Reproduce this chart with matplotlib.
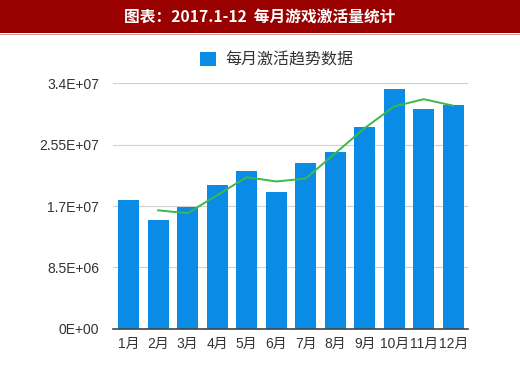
import matplotlib.pyplot as plt
from matplotlib.patches import Rectangle

plt.rcParams['font.family'] = ['Noto Sans CJK SC', 'DejaVu Sans']

# data
months = ['1月', '2月', '3月', '4月', '5月', '6月', '7月', '8月', '9月', '10月', '11月', '12月']
activations = [17.9e6, 15.1e6, 16.9e6, 19.9e6, 21.9e6, 18.9e6, 22.9e6, 24.5e6, 27.9e6, 33.2e6, 30.5e6, 31.0e6]
trend = [None, 16.4e6, 16.0e6, 18.5e6, 21.0e6, 20.4e6, 20.8e6, 24.3e6, 27.8e6, 30.8e6, 31.8e6, 30.9e6]
yticks = [0, 8.5e6, 1.7e7, 2.55e7, 3.4e7]
ytick_labels = ['0E+00', '8.5E+06', '1.7E+07', '2.55E+07', '3.4E+07']

fig = plt.figure(figsize=(5.2, 3.68), dpi=100)
fig.patch.set_facecolor('white')

# red title band
fig.patches.append(Rectangle((0, 1 - 33 / 368), 1, 33 / 368, transform=fig.transFigure,
                             facecolor='#990000', edgecolor='none', zorder=0))
fig.patches.append(Rectangle((0, 1 - 35 / 368), 1, 1.5 / 368, transform=fig.transFigure,
                             facecolor='#d9a0a0', edgecolor='none', zorder=0))
fig.text(0.5, 1 - 16.5 / 368, '图表：2017.1-12  每月游戏激活量统计', color='white',
         fontsize=11.3, fontweight='bold', ha='center', va='center')

ax = fig.add_axes([113 / 520, 1 - 328.7 / 368, (468 - 113) / 520, (328.7 - 83.3) / 368])
x = list(range(len(months)))
bars = ax.bar(x, activations, width=0.71, color='#0a8ce6', zorder=2, label='每月激活趋势数据')
tx = [i for i, v in zip(x, trend) if v is not None]
ty = [v for v in trend if v is not None]
ax.plot(tx, ty, color='#3cb84a', linewidth=1.4, zorder=3)

ax.set_xlim(-0.53, 11.5)
ax.set_ylim(0, 3.4e7)
ax.set_yticks(yticks)
ax.set_yticklabels(ytick_labels, family=['Liberation Sans', 'Noto Sans CJK SC'])
ax.set_xticks(x)
ax.set_xticklabels(months, family=['Liberation Sans', 'Noto Sans CJK SC'])
ax.grid(axis='y', color='#d0d0d0', linewidth=0.8, zorder=0)
ax.set_axisbelow(True)
for s in ['top', 'right', 'left']:
    ax.spines[s].set_visible(False)
ax.spines['bottom'].set_color('#444444')
ax.spines['bottom'].set_linewidth(1.2)
ax.tick_params(axis='both', length=0, labelsize=10, colors='#333333')
ax.tick_params(axis='y', pad=10)
ax.tick_params(axis='x', pad=6)

fig.legend(handles=[bars], loc='center', bbox_to_anchor=(277 / 520, 1 - 60 / 368),
           frameon=False, fontsize=11.5, handlelength=1.0, handleheight=1.0,
           handletextpad=0.6, labelcolor='#333333')

fig.savefig('out.png', dpi=100)
